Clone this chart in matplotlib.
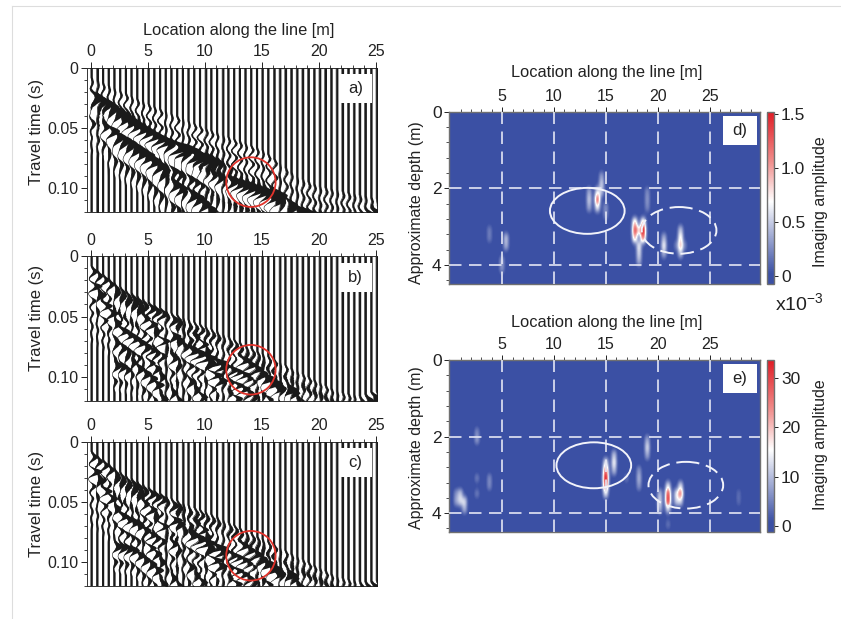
import numpy as np
import matplotlib
matplotlib.use("Agg")
import matplotlib.pyplot as plt
from matplotlib.colors import LinearSegmentedColormap
from matplotlib.lines import Line2D
from matplotlib.patches import Ellipse, Rectangle

plt.rcParams['font.family'] = ['Liberation Sans', 'DejaVu Sans']
plt.rcParams['mathtext.default'] = 'regular'

W, H = 841, 619

# Traces are too dense to read sample by sample, so they are approximated:
# the wavelets and the event picks (location, time, amplitude) are read off the
# picture, and each trace is the picked wavelets stamped at the picked times.
trace_x = np.arange(0, 25.5, 0.5)
dead_traces = [6.5, 8.0, 11.5, 16.5, 18.0]
pulse = [0, .25, .8, 1, .7, .1, -.45, -.55, -.2, .2, .35, .2, 0, -.15, -.1, 0]
coda = [0, .3, .7, .5, -.2, -.8, -.6, .2, .8, .7, 0, -.7, -.8, -.1, .7, .8, .2,
        -.6, -.7, -.1, .6, .6, .1, -.5, -.5, 0, .4, .4, 0, -.3, -.2, 0, .2, .1, 0]
jitter = [1, .7, 1.2, .9, .6, 1.1, 1.3, .8, 1, .65, 1.15, .85, 1.25]
pulse_dt = [.0027, .0018, .0018]

first_break = [(0, .008, .3), (5, .03, .45), (10, .05, .5), (15, .068, .5),
               (18, .09, .35), (20, .098, .35), (25, .108, .3)]
first_break_bc = [(0, .008, .4), (4, .035, .6), (11, .062, .65), (17, .09, .6),
                  (21.6, .112, .4), (25, .118, .3)]

a_events = [
    [(0, .017, 1.2), (2.6, .034, 1.5), (5.5, .051, 1.6), (7.9, .062, 1.5), (10.2, .068, 1.0), (12, .076, .3)],
    [(6.3, .056, 1.4), (9, .07, 1.3), (11.3, .084, 1.2), (14, .093, 1.7), (16, .1, 1.9), (17.7, .113, 1.7)],
    [(0, .023, .6), (2, .051, 1.0), (4.6, .067, 1.3), (7, .089, 1.5), (9, .101, 1.5), (10.5, .115, 1.4)],
    [(17.5, .113, 1.4), (20, .117, 1.2), (21, .119, .4)],
    [(23.5, .116, .4), (24.5, .113, 1.5), (25, .112, 1.5)],
]
b_events = [
    [(0, .008, .5), (4, .038, .6), (11.3, .066, .5), (17.2, .096, .4), (21.6, .118, .5)],
    [(0, .02, 1.0), (2.3, .055, 1.1), (4, .066, 1.2), (6, .08, .5)],
    [(2, .068, .7), (5.5, .102, 1.1), (6.1, .116, 1.2)],
    [(2, .027, .8), (4, .04, 1.0), (5.5, .058, .9), (7.8, .091, .8), (9.6, .113, .9)],
    [(6.7, .06, 1.1), (10.2, .083, 1.2), (14.3, .096, .6), (17.2, .105, 1.0)],
    [(8.7, .058, .8), (11, .088, .9), (13, .105, .8), (14.5, .118, .8)],
    [(13, .081, 1.3), (14.9, .095, 1.4), (16, .105, 1.5), (17.5, .108, 1.2), (18.5, .118, 1.1)],
    [(2, .086, 1.0), (3, .088, .5), (4.5, .095, .3)],
    [(3.5, .03, .4), (7, .048, .5), (9, .07, .6), (11, .1, .7)],
    [(8, .07, .8), (11.5, .1, .8), (13, .118, .6)],
    [(4.5, .075, .7), (7.5, .115, .7)],
    [(23.5, .116, .4), (24.5, .112, 1.4), (25, .112, 1.4)],
]
c_events = [
    [(0, .008, .5), (4, .038, .6), (11.3, .066, .5), (17.2, .096, .4), (21.6, .118, .5)],
    [(0, .02, 1.0), (2.3, .055, 1.0), (4, .064, 1.2), (6, .08, .5)],
    [(2, .082, 1.1), (3.5, .085, 1.0), (5.5, .102, 1.0), (6.1, .116, 1.2)],
    [(2, .027, .8), (4, .04, .9), (5.5, .058, .8), (7.8, .091, .7), (9.6, .113, .9)],
    [(6.7, .058, 1.2), (10.2, .083, 1.1), (14.3, .096, .6), (17.2, .105, 1.0)],
    [(8.7, .058, .8), (11, .088, .9), (13, .105, .7), (14.5, .118, .8)],
    [(13, .081, 1.1), (14.9, .095, 1.4), (16, .105, 1.4), (17.5, .108, 1.1), (18.5, .118, 1.1)],
    [(3.5, .03, .4), (7, .048, .5), (9, .07, .6), (11, .1, .7)],
    [(8, .07, .8), (11.5, .1, .8), (13, .118, .6)],
    [(4.5, .075, .7), (7.5, .115, .7)],
    [(23.5, .116, .3), (24.5, .115, .9), (25, .115, 1.1)],
]
circle_t = [.095, .0942, .0947]

# Heatmap cells: location (m), depth (m), amplitude, on a coarse grid
cell_dx, cell_dz = 0.4, 0.2
d_x = [14.1, 14.1, 14.1, 14.7, 14.7, 14.7, 13.3, 13.3, 13.3, 15.1, 15.1,
       17.7, 17.7, 17.7, 18.3, 18.7, 18.7, 18.7, 18.3, 18.3, 18.3, 19.1, 19.1, 19.1,
       20.5, 20.5, 20.5, 22.3, 22.3, 22.3, 22.3, 21.9, 22.7,
       5.3, 5.3, 4.9, 4.9, 3.9, 3.9]
d_z = [2.0, 2.2, 2.4, 1.6, 1.8, 2.0, 2.0, 2.2, 2.4, 2.4, 2.6,
       2.9, 3.1, 3.3, 3.1, 2.9, 3.1, 3.3, 3.5, 3.7, 3.9, 2.1, 2.3, 2.5,
       3.3, 3.5, 3.7, 3.1, 3.3, 3.5, 3.7, 3.4, 3.4,
       3.3, 3.5, 3.8, 4.0, 3.0, 3.2]
d_v = [.7, 1.5, .8, .4, .6, .5, .45, .6, .45, .35, .3,
       1.1, 1.5, 1.1, .8, 1.1, 1.8, 1.4, .75, .65, .5, .3, .35, .3,
       .5, .8, .5, .6, .9, 1.05, .6, .25, .25,
       .55, .5, .4, .35, .25, .25]

e_x = [15.1, 15.1, 15.1, 15.1, 15.1, 15.7, 15.7, 15.7, 18.9, 18.9, 18.9, 18.3, 18.3, 18.3, 17.1,
       21.0, 21.0, 21.0, 21.0, 20.3, 20.3, 20.3, 22.3, 22.3, 22.3, 21.7, 21.7,
       .7, 1.1, 1.5, .7, 1.1, 1.5, 2.7, 2.7, 2.7, 2.7, 3.9, 3.9, 27.7, 27.7, 21.1]
e_z = [2.6, 2.8, 3.0, 3.2, 3.4, 2.4, 2.6, 2.8, 2.1, 2.3, 2.5, 2.9, 3.1, 3.3, 3.1,
       3.3, 3.5, 3.7, 3.9, 3.4, 3.6, 3.8, 3.3, 3.5, 3.7, 3.5, 3.7,
       3.5, 3.5, 3.6, 3.7, 3.7, 3.8, 1.8, 2.0, 3.1, 3.4, 3.0, 3.2, 3.5, 3.7, 4.2]
e_v = [18, 32, 42, 34, 16, 13, 18, 12, 10, 15, 10, 8, 11, 8, 5,
       16, 36, 38, 14, 12, 15, 11, 15, 30, 14, 15, 13,
       7, 13, 15, 9, 14, 11, 7, 9, 6, 6, 7, 7, 4, 4, 5]

labels_left = ['a)', 'b)', 'c)']
x_label = 'Location along the line [m]'
cmap = LinearSegmentedColormap.from_list(
    'blue_white_red', [(0, '#3b50a4'), (.06, '#3b50a4'), (.48, '#ffffff'), (.72, '#f08a88'), (1, '#e01b24')])

fig = plt.figure(figsize=(W / 100, H / 100), dpi=100)


def px_axes(left, top, right, bottom):
    return fig.add_axes([left / W, 1 - bottom / H, (right - left) / W, (bottom - top) / H])


def fig_text(x, y, s, **kw):
    fig.text(x / W, 1 - y / H, s, ha='center', va='center', color='#222222', **kw)


def label_box(ax, left, top, right, bottom, s, box):
    l, t, r, b = box
    x0, x1 = (l - left) / (right - left), (r - left) / (right - left)
    y0, y1 = (bottom - b) / (bottom - top), (bottom - t) / (bottom - top)
    ax.add_patch(Rectangle((x0, y0), x1 - x0, y1 - y0, transform=ax.transAxes, fc='white', ec='none', zorder=8))
    ax.text((x0 + x1) / 2, (y0 + y1) / 2, s, transform=ax.transAxes, ha='center', va='center',
            fontsize=12, color='#222222', zorder=9)


def stamp(t, x, events, wave, dt):
    out = np.zeros_like(t)
    wave_t = np.arange(len(wave)) * dt
    for ev in events:
        ex, et, ea = zip(*ev)
        if x < ex[0] or x > ex[-1]:
            continue
        t0 = np.interp(x, ex, et)
        out += np.interp(x, ex, ea) * np.interp(t - t0, wave_t, wave, left=0, right=0)
    return out


def draw_traces(ax, events, breaks, dt):
    t = np.arange(0, .1205, .0002)
    for i, x in enumerate(trace_x):
        p = stamp(t, x, events, pulse, dt)
        c = jitter[i % len(jitter)] * stamp(t, x, [breaks], coda, .0019)
        if x in dead_traces:
            p = p * .4
            c = c * .4
        left = x + .22 * p + .4 * c
        right = left + .19 + .42 * p + .1 * c
        ax.fill_betweenx(t, left, right, where=right > left, color='#1a1a1a', lw=0, zorder=3)
        ax.plot(left + .03, t, color='#1a1a1a', lw=.4, zorder=3)


# seismograms a, b, c
tops = [67.7, 256.3, 441.7]
for k, events in enumerate([a_events, b_events, c_events]):
    top = tops[k]
    bottom = top + 144.5
    ax = px_axes(87, top, 377, bottom)
    draw_traces(ax, events, first_break if k == 0 else first_break_bc, pulse_dt[k])
    ax.set_xlim(-.32, 25.12)
    ax.set_ylim(.12, 0)
    ax.xaxis.tick_top()
    ax.set_xticks(np.arange(0, 26, 5))
    ax.set_xticks(np.arange(0, 26, 1), minor=True)
    ax.set_yticks([0, .05, .10])
    ax.set_yticklabels(['0', '0.05', '0.10'])
    ax.set_yticks(np.arange(0, .121, .01), minor=True)
    ax.tick_params(which='major', length=4, width=.7, labelsize=11.5, pad=2, colors='#222222')
    ax.tick_params(which='minor', length=2.5, width=.6, color='#222222')
    for sp in ax.spines.values():
        sp.set_linewidth(.7)
        sp.set_color('#333333')
    ax.add_patch(Ellipse((14.06, circle_t[k]), 4.33, .0412, fc='none', ec='#e2332b', lw=1.3, zorder=7))
    label_box(ax, 87, top, 377, bottom, labels_left[k], (339, top + 6.5, 372, top + 35.5))
    fig_text(37, (top + bottom) / 2 - 8 if k == 0 else top + 62, 'Travel time (s)', rotation=90, fontsize=12)
fig_text(239, 30, x_label, fontsize=11.8)


def draw_heat(top, bottom, xs, zs, vs, vmin, vmax, cticks, cticklabels, label, ell_solid, ell_dash):
    ax = px_axes(449.3, top, 760, bottom)
    grid = np.zeros((int(round(4.6 / cell_dz)), int(round(30 / cell_dx))))
    for x, z, v in zip(xs, zs, vs):
        grid[int(z / cell_dz + .01), int(x / cell_dx + .01)] += v
    im = ax.imshow(grid, extent=[0, 30, 4.6, 0], origin='upper', aspect='auto', cmap=cmap,
                   vmin=vmin, vmax=vmax, interpolation='gaussian')
    ax.set_xlim(-.1, 29.85)
    ax.set_ylim(4.5, 0)
    ax.xaxis.tick_top()
    ax.set_xticks(np.arange(5, 26, 5))
    ax.set_xticks(np.arange(1, 30, 1), minor=True)
    ax.set_yticks([0, 2, 4])
    ax.set_yticks(np.arange(0, 4.5, .4), minor=True)
    ax.tick_params(which='major', length=3.5, width=.7, colors='#222222', pad=2)
    ax.tick_params(which='minor', length=2.5, width=.6, color='#333333')
    ax.tick_params(axis='x', which='major', labelsize=11.5)
    ax.tick_params(axis='y', which='major', labelsize=12.5)
    for sp in ax.spines.values():
        sp.set_linewidth(1)
        sp.set_color('#707070')
    for x in [5, 10, 15, 20, 25]:
        ax.axvline(x, color='#e4e6f4', lw=1.2, dashes=(7.5, 4.5), zorder=4)
    for z in [2, 4]:
        ax.axhline(z, color='#e4e6f4', lw=1.2, dashes=(7.5, 4.5), zorder=4)
    ax.add_patch(Ellipse(ell_solid, 7.2, 1.2, fc='none', ec='#f2f3fa', lw=1.4, zorder=5))
    ax.add_patch(Ellipse(ell_dash, 7.2, 1.22, fc='none', ec='#f2f3fa', lw=1.4, ls=(0, (7, 3.5)), zorder=5))
    label_box(ax, 449.3, top, 760, bottom, label, (723, top + 4, 757, top + 33))
    cax = px_axes(767, top, 774, bottom)
    cb = fig.colorbar(im, cax=cax)
    cb.set_ticks(cticks)
    cb.set_ticklabels(cticklabels)
    cb.ax.tick_params(length=3, width=.7, labelsize=12.5, pad=2, colors='#222222')
    cb.outline.set_edgecolor('#707070')
    cb.outline.set_linewidth(1)


# imaging panels d, e
draw_heat(111.7, 284, d_x, d_z, d_v, -.07, 1.525, [0, .5, 1.0, 1.5], ['0', '0.5', '1.0', '1.5'], 'd)', (13.2, 2.59), (22.05, 3.1))
draw_heat(360, 532.3, e_x, e_z, e_v, -1.35, 33.7, [0, 10, 20, 30], ['0', '10', '20', '30'], 'e)', (13.83, 2.75), (22.7, 3.27))
fig_text(607, 73, x_label, fontsize=11.8)
fig_text(607, 322, x_label, fontsize=11.8)
fig_text(417, 203, 'Approximate depth (m)', rotation=90, fontsize=11.5)
fig_text(417, 448, 'Approximate depth (m)', rotation=90, fontsize=11.5)
fig_text(821, 202, 'Imaging amplitude', rotation=90, fontsize=11.5)
fig_text(821, 445, 'Imaging amplitude', rotation=90, fontsize=11.5)
fig_text(799, 303, r'x10$^{-3}$', fontsize=14)

# faint page frame of the source document
fig.add_artist(Line2D([12 / W, 12 / W], [0, 1 - 6 / H], color='#dddddd', lw=.8))
fig.add_artist(Line2D([12 / W, 1], [1 - 6 / H, 1 - 6 / H], color='#dddddd', lw=.8))

fig.savefig('out.png', dpi=100)
